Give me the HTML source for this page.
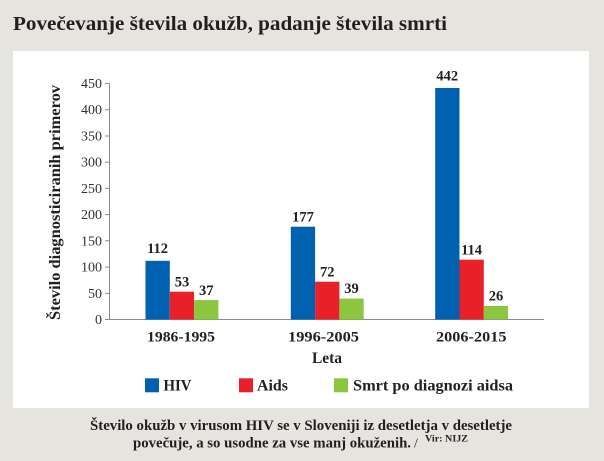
<!DOCTYPE html>
<html>
<head>
<meta charset="utf-8">
<style>
  html, body { margin: 0; padding: 0; background: #e6e4df; }
  svg { display: block; }
  text { font-family: "Liberation Serif", "DejaVu Serif", serif; }
</style>
</head>
<body>
<svg width="604" height="461" viewBox="0 0 604 461" xmlns="http://www.w3.org/2000/svg">
  <rect x="0" y="0" width="604" height="461" fill="#e6e4df"/>
  <!-- Title -->
  <text x="13" y="30" font-size="20.5" font-weight="bold" fill="#231f20" textLength="434" lengthAdjust="spacingAndGlyphs">Povečevanje števila okužb, padanje števila smrti</text>

  <!-- White panel -->
  <rect x="13" y="51" width="576" height="357" fill="#ffffff"/>

  <!-- Y axis title -->
  <text transform="translate(60,320) rotate(-90)" x="0" y="0" font-size="16" font-weight="bold" fill="#231f20" textLength="235" lengthAdjust="spacingAndGlyphs">Število diagnosticiranih primerov</text>

  <!-- Axes -->
  <g stroke="#8a8a8a" stroke-width="1" fill="none">
    <line x1="109.5" y1="83.5" x2="109.5" y2="319.5"/>
    <line x1="109" y1="319.5" x2="544" y2="319.5"/>
    <line x1="105" y1="319.5" x2="109.5" y2="319.5"/>
    <line x1="105" y1="293.3" x2="109.5" y2="293.3"/>
    <line x1="105" y1="267.1" x2="109.5" y2="267.1"/>
    <line x1="105" y1="240.8" x2="109.5" y2="240.8"/>
    <line x1="105" y1="214.6" x2="109.5" y2="214.6"/>
    <line x1="105" y1="188.4" x2="109.5" y2="188.4"/>
    <line x1="105" y1="162.2" x2="109.5" y2="162.2"/>
    <line x1="105" y1="136.0" x2="109.5" y2="136.0"/>
    <line x1="105" y1="109.7" x2="109.5" y2="109.7"/>
    <line x1="105" y1="83.5" x2="109.5" y2="83.5"/>
  </g>

  <!-- Tick labels -->
  <g font-size="14" fill="#333" text-anchor="end">
    <text x="102" y="324">0</text>
    <text x="102" y="297.8">50</text>
    <text x="102" y="271.6">100</text>
    <text x="102" y="245.3">150</text>
    <text x="102" y="219.1">200</text>
    <text x="102" y="192.9">250</text>
    <text x="102" y="166.7">300</text>
    <text x="102" y="140.5">350</text>
    <text x="102" y="114.2">400</text>
    <text x="102" y="88">450</text>
  </g>

  <!-- Bars -->
  <g>
    <!-- Group 1 -->
    <rect x="145.5" y="260.8" width="24.3" height="58.7" fill="#0061b0"/>
    <rect x="169.8" y="291.7" width="24.3" height="27.8" fill="#e8202a"/>
    <rect x="194.1" y="300.1" width="24.3" height="19.4" fill="#8cc63f"/>
    <!-- Group 2 -->
    <rect x="290.8" y="226.7" width="24.3" height="92.8" fill="#0061b0"/>
    <rect x="315.1" y="281.7" width="24.3" height="37.8" fill="#e8202a"/>
    <rect x="339.4" y="298.6" width="24.3" height="20.9" fill="#8cc63f"/>
    <!-- Group 3 -->
    <rect x="435.2" y="88.0" width="24.3" height="231.5" fill="#0061b0"/>
    <rect x="459.5" y="259.7" width="24.3" height="59.8" fill="#e8202a"/>
    <rect x="483.8" y="305.9" width="24.3" height="13.6" fill="#8cc63f"/>
  </g>

  <!-- Value labels -->
  <g font-size="14.5" font-weight="bold" fill="#231f20" text-anchor="middle">
    <text x="157.6" y="253">112</text>
    <text x="182" y="286.5">53</text>
    <text x="206.3" y="295">37</text>
    <text x="303" y="221.5">177</text>
    <text x="327.2" y="276.5">72</text>
    <text x="351.5" y="293">39</text>
    <text x="447.3" y="80.5">442</text>
    <text x="471.6" y="254.5">114</text>
    <text x="496" y="300.5">26</text>
  </g>

  <!-- X labels -->
  <g font-size="15" font-weight="bold" fill="#231f20">
    <text x="147" y="341.5" textLength="68" lengthAdjust="spacingAndGlyphs">1986-1995</text>
    <text x="288" y="341.5" textLength="71" lengthAdjust="spacingAndGlyphs">1996-2005</text>
    <text x="436" y="341.5" textLength="70.5" lengthAdjust="spacingAndGlyphs">2006-2015</text>
    <text x="312" y="363" font-size="16" textLength="30" lengthAdjust="spacingAndGlyphs">Leta</text>
  </g>

  <!-- Legend -->
  <rect x="145" y="378.3" width="14" height="14" fill="#0061b0"/>
  <rect x="239" y="378.3" width="14" height="14" fill="#e8202a"/>
  <rect x="334" y="378.3" width="14" height="14" fill="#8cc63f"/>
  <g font-size="15.5" font-weight="bold" fill="#231f20">
    <text x="163.5" y="390.5" textLength="28" lengthAdjust="spacingAndGlyphs">HIV</text>
    <text x="257" y="390.5" textLength="31" lengthAdjust="spacingAndGlyphs">Aids</text>
    <text x="353" y="390.5" textLength="160" lengthAdjust="spacingAndGlyphs">Smrt po diagnozi aidsa</text>
  </g>

  <!-- Caption -->
  <g font-weight="bold" fill="#231f20">
    <text x="90" y="430" font-size="15" textLength="422" lengthAdjust="spacingAndGlyphs">Število okužb v virusom HIV se v Sloveniji iz desetletja v desetletje</text>
    <text x="133" y="447.5" font-size="15" textLength="278" lengthAdjust="spacingAndGlyphs">povečuje, a so usodne za vse manj okuženih.</text>
    <text x="414" y="447.5" font-size="14" font-weight="normal">/</text>
    <text x="425" y="441.5" font-size="9.5" textLength="43" lengthAdjust="spacingAndGlyphs">Vir: NIJZ</text>
  </g>
</svg>
</body>
</html>
